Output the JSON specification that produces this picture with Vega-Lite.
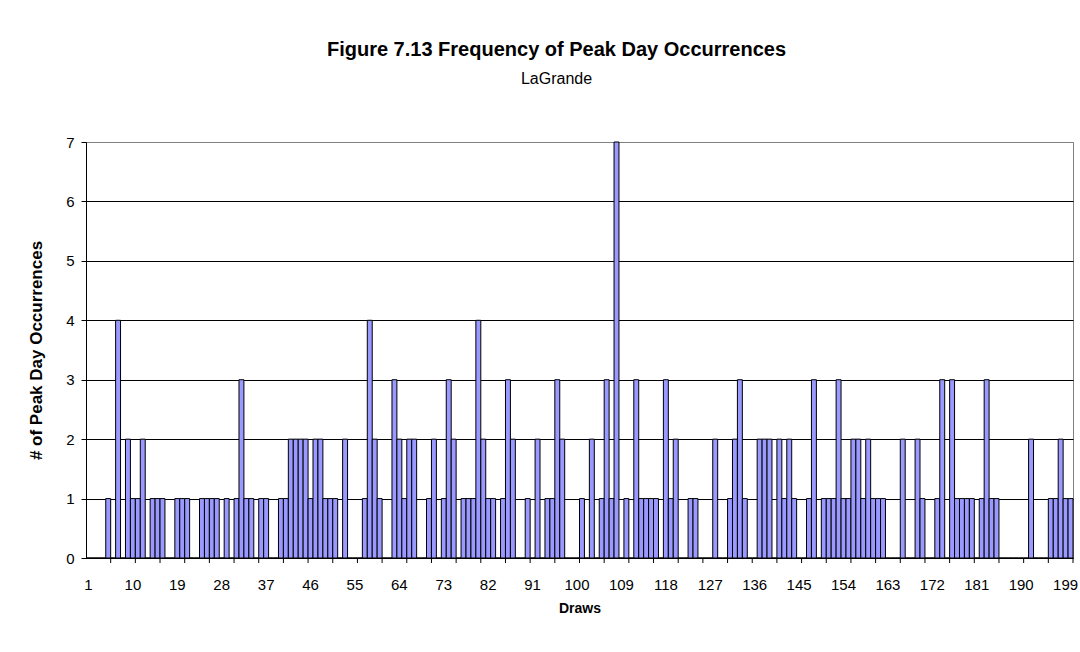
{
  "$schema": "https://vega.github.io/schema/vega-lite/v6.json",
  "width": 987,
  "height": 416,
  "autosize": {"type": "none"},
  "padding": {"left": 86, "top": 142, "right": 7, "bottom": 94},
  "background": "white",
  "config": {
    "font": "Liberation Sans",
    "view": {"stroke": "#808080", "strokeWidth": 1},
    "axis": {"domainColor": "black", "tickColor": "black", "labelColor": "black", "titleColor": "black", "labelFont": "Liberation Sans", "titleFont": "Liberation Sans", "labelFontSize": 15, "titleFontSize": 15, "titleFontWeight": "bold"}
  },
  "title": {
    "text": "Figure 7.13  Frequency of Peak Day Occurrences",
    "subtitle": "LaGrande",
    "anchor": "middle",
    "frame": "group",
    "dx": -23,
    "offset": 48,
    "font": "Liberation Sans",
    "fontSize": 20,
    "fontWeight": "bold",
    "color": "black",
    "subtitleFont": "Liberation Sans",
    "subtitleFontSize": 16,
    "subtitleColor": "black",
    "subtitlePadding": 11
  },
  "data": {"values": [
    {"draw":1,"n":0},{"draw":2,"n":0},{"draw":3,"n":0},{"draw":4,"n":0},{"draw":5,"n":1},{"draw":6,"n":0},{"draw":7,"n":4},{"draw":8,"n":0},{"draw":9,"n":2},{"draw":10,"n":1},
    {"draw":11,"n":1},{"draw":12,"n":2},{"draw":13,"n":0},{"draw":14,"n":1},{"draw":15,"n":1},{"draw":16,"n":1},{"draw":17,"n":0},{"draw":18,"n":0},{"draw":19,"n":1},{"draw":20,"n":1},
    {"draw":21,"n":1},{"draw":22,"n":0},{"draw":23,"n":0},{"draw":24,"n":1},{"draw":25,"n":1},{"draw":26,"n":1},{"draw":27,"n":1},{"draw":28,"n":0},{"draw":29,"n":1},{"draw":30,"n":0},
    {"draw":31,"n":1},{"draw":32,"n":3},{"draw":33,"n":1},{"draw":34,"n":1},{"draw":35,"n":0},{"draw":36,"n":1},{"draw":37,"n":1},{"draw":38,"n":0},{"draw":39,"n":0},{"draw":40,"n":1},
    {"draw":41,"n":1},{"draw":42,"n":2},{"draw":43,"n":2},{"draw":44,"n":2},{"draw":45,"n":2},{"draw":46,"n":1},{"draw":47,"n":2},{"draw":48,"n":2},{"draw":49,"n":1},{"draw":50,"n":1},
    {"draw":51,"n":1},{"draw":52,"n":0},{"draw":53,"n":2},{"draw":54,"n":0},{"draw":55,"n":0},{"draw":56,"n":0},{"draw":57,"n":1},{"draw":58,"n":4},{"draw":59,"n":2},{"draw":60,"n":1},
    {"draw":61,"n":0},{"draw":62,"n":0},{"draw":63,"n":3},{"draw":64,"n":2},{"draw":65,"n":1},{"draw":66,"n":2},{"draw":67,"n":2},{"draw":68,"n":0},{"draw":69,"n":0},{"draw":70,"n":1},
    {"draw":71,"n":2},{"draw":72,"n":0},{"draw":73,"n":1},{"draw":74,"n":3},{"draw":75,"n":2},{"draw":76,"n":0},{"draw":77,"n":1},{"draw":78,"n":1},{"draw":79,"n":1},{"draw":80,"n":4},
    {"draw":81,"n":2},{"draw":82,"n":1},{"draw":83,"n":1},{"draw":84,"n":0},{"draw":85,"n":1},{"draw":86,"n":3},{"draw":87,"n":2},{"draw":88,"n":0},{"draw":89,"n":0},{"draw":90,"n":1},
    {"draw":91,"n":0},{"draw":92,"n":2},{"draw":93,"n":0},{"draw":94,"n":1},{"draw":95,"n":1},{"draw":96,"n":3},{"draw":97,"n":2},{"draw":98,"n":0},{"draw":99,"n":0},{"draw":100,"n":0},
    {"draw":101,"n":1},{"draw":102,"n":0},{"draw":103,"n":2},{"draw":104,"n":0},{"draw":105,"n":1},{"draw":106,"n":3},{"draw":107,"n":1},{"draw":108,"n":7},{"draw":109,"n":0},{"draw":110,"n":1},
    {"draw":111,"n":0},{"draw":112,"n":3},{"draw":113,"n":1},{"draw":114,"n":1},{"draw":115,"n":1},{"draw":116,"n":1},{"draw":117,"n":0},{"draw":118,"n":3},{"draw":119,"n":1},{"draw":120,"n":2},
    {"draw":121,"n":0},{"draw":122,"n":0},{"draw":123,"n":1},{"draw":124,"n":1},{"draw":125,"n":0},{"draw":126,"n":0},{"draw":127,"n":0},{"draw":128,"n":2},{"draw":129,"n":0},{"draw":130,"n":0},
    {"draw":131,"n":1},{"draw":132,"n":2},{"draw":133,"n":3},{"draw":134,"n":1},{"draw":135,"n":0},{"draw":136,"n":0},{"draw":137,"n":2},{"draw":138,"n":2},{"draw":139,"n":2},{"draw":140,"n":0},
    {"draw":141,"n":2},{"draw":142,"n":1},{"draw":143,"n":2},{"draw":144,"n":1},{"draw":145,"n":0},{"draw":146,"n":0},{"draw":147,"n":1},{"draw":148,"n":3},{"draw":149,"n":0},{"draw":150,"n":1},
    {"draw":151,"n":1},{"draw":152,"n":1},{"draw":153,"n":3},{"draw":154,"n":1},{"draw":155,"n":1},{"draw":156,"n":2},{"draw":157,"n":2},{"draw":158,"n":1},{"draw":159,"n":2},{"draw":160,"n":1},
    {"draw":161,"n":1},{"draw":162,"n":1},{"draw":163,"n":0},{"draw":164,"n":0},{"draw":165,"n":0},{"draw":166,"n":2},{"draw":167,"n":0},{"draw":168,"n":0},{"draw":169,"n":2},{"draw":170,"n":1},
    {"draw":171,"n":0},{"draw":172,"n":0},{"draw":173,"n":1},{"draw":174,"n":3},{"draw":175,"n":0},{"draw":176,"n":3},{"draw":177,"n":1},{"draw":178,"n":1},{"draw":179,"n":1},{"draw":180,"n":1},
    {"draw":181,"n":0},{"draw":182,"n":1},{"draw":183,"n":3},{"draw":184,"n":1},{"draw":185,"n":1},{"draw":186,"n":0},{"draw":187,"n":0},{"draw":188,"n":0},{"draw":189,"n":0},{"draw":190,"n":0},
    {"draw":191,"n":0},{"draw":192,"n":2},{"draw":193,"n":0},{"draw":194,"n":0},{"draw":195,"n":0},{"draw":196,"n":1},{"draw":197,"n":1},{"draw":198,"n":2},{"draw":199,"n":1},{"draw":200,"n":1}
  ]},
  "layer": [
    {
      "mark": {"type": "bar", "fill": "#9999FF", "stroke": "black", "strokeWidth": 1},
      "encoding": {
        "x": {
          "field": "draw", "type": "ordinal",
          "scale": {"paddingInner": 0, "paddingOuter": 0},
          "axis": {"title": "Draws", "titleFontSize": 14, "values": [1,10,19,28,37,46,55,64,73,82,91,100,109,118,127,136,145,154,163,172,181,190,199], "labelAngle": 0, "ticks": false, "labelPadding": 19, "titlePadding": 9, "grid": false}
        },
        "y": {
          "field": "n", "type": "quantitative",
          "scale": {"domain": [0, 7], "nice": false},
          "axis": {"title": "# of Peak Day Occurrences", "titleFontSize": 17, "format": "d", "values": [0,1,2,3,4,5,6,7], "tickSize": 5, "labelPadding": 7, "titlePadding": 20, "grid": true, "gridColor": {"condition": {"test": "datum.value == 7", "value": "#808080"}, "value": "black"}, "gridOpacity": 1, "gridWidth": 1}
        }
      }
    },
    {
      "transform": [{"filter": "datum.draw % 5 == 0"}],
      "mark": {"type": "tick", "orient": "vertical", "size": 5, "thickness": 1, "color": "black", "yOffset": 2.5, "opacity": 1},
      "encoding": {
        "x": {"field": "draw", "type": "ordinal", "bandPosition": 1},
        "y": {"datum": 0}
      }
    }
  ]
}
